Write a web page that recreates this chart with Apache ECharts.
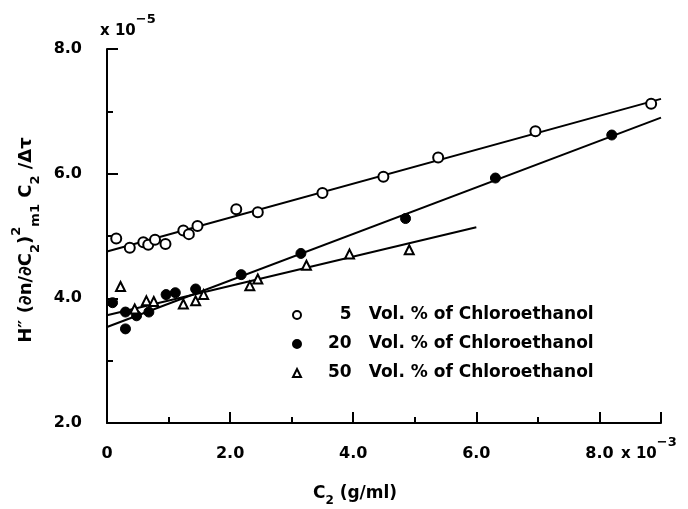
<!DOCTYPE html>
<html>
<head>
<meta charset="utf-8">
<script src="https://cdn.jsdelivr.net/npm/echarts@6/dist/echarts.min.js"></script>
<style>
  html, body { margin: 0; padding: 0; background: #fff; }
  #chart { width: 688px; height: 509px; }
</style>
</head>
<body>
<div id="chart"></div>
<script>
// Concentration C2 (x 10^-3 g/ml) and H'' (dn/dC2)^2 C2 / dtau (x 10^-5)
const vol5X = [0.15, 0.37, 0.59, 0.67, 0.78, 0.95, 1.24, 1.33, 1.47, 2.10, 2.45, 3.50, 4.49, 5.38, 6.96, 8.84];
const vol5Y = [4.96, 4.81, 4.90, 4.86, 4.94, 4.87, 5.09, 5.03, 5.16, 5.43, 5.38, 5.69, 5.95, 6.26, 6.68, 7.12];

const vol20X = [0.09, 0.30, 0.30, 0.48, 0.68, 0.96, 1.11, 1.44, 2.18, 3.15, 4.85, 6.31, 8.20];
const vol20Y = [3.93, 3.78, 3.51, 3.72, 3.78, 4.06, 4.09, 4.15, 4.38, 4.72, 5.28, 5.93, 6.62];

const vol50X = [0.22, 0.45, 0.64, 0.76, 1.24, 1.44, 1.57, 2.32, 2.45, 3.24, 3.94, 4.91];
const vol50Y = [4.19, 3.83, 3.96, 3.95, 3.91, 3.96, 4.06, 4.20, 4.31, 4.53, 4.71, 4.78];

// End points of the straight lines drawn through each set
const fit5X = [0, 9.0];
const fit5Y = [4.75, 7.20];
const fit20X = [0, 9.0];
const fit20Y = [3.54, 6.90];
const fit50X = [0, 6.0];
const fit50Y = [3.73, 5.14];

const seriesNames = ['5 Vol. % of Chloroethanol', '20 Vol. % of Chloroethanol', '50 Vol. % of Chloroethanol'];
const xTicks = [0, 2, 4, 6, 8];
const yTicks = [2, 4, 6, 8];

const FONT = 'DejaVu Sans';
const zip = (xs, ys) => xs.map((x, i) => [x, ys[i]]);

const chart = echarts.init(document.getElementById('chart'), null, { renderer: 'canvas' });

const axisCommon = {
  type: 'value',
  axisLine: { show: true, lineStyle: { color: '#000', width: 2 } },
  axisTick: { show: true, inside: true, length: 11, lineStyle: { color: '#000', width: 2 } },
  minorTick: { show: true, splitNumber: 2, length: 6, lineStyle: { color: '#000', width: 2 } },
  splitLine: { show: false },
  minorSplitLine: { show: false }
};

const labelStyle = { color: '#000', fontFamily: FONT, fontWeight: 'bold', fontSize: 16 };

function fitLine(xs, ys) {
  return {
    type: 'line',
    data: zip(xs, ys),
    symbol: 'none',
    silent: true,
    z: 2,
    lineStyle: { color: '#000', width: 2 }
  };
}

// Legend rows: percentage right-aligned (figure space pads one-digit values)
function legendLabel(name) {
  const k = name.indexOf(' ');
  let num = name.slice(0, k);
  if (num.length < 2) num = '\u2007' + num;
  return '{p| }{t|' + num + '\u2002\u2002' + name.slice(k + 1) + '}';
}

const option = {
  backgroundColor: '#fff',
  animation: false,
  grid: { left: 107, right: 27, top: 49, bottom: 86, containLabel: false, outerBoundsMode: 'none' },
  xAxis: Object.assign({}, axisCommon, {
    min: 0, max: 9, interval: 2,
    axisLabel: Object.assign({}, labelStyle, {
      margin: 23,
      formatter: v => (xTicks.indexOf(v) < 0 ? '' : (v === 0 ? '0' : v.toFixed(1)))
    })
  }),
  yAxis: Object.assign({}, axisCommon, {
    min: 2, max: 8, interval: 2,
    axisLabel: Object.assign({}, labelStyle, {
      margin: 25,
      formatter: v => (yTicks.indexOf(v) < 0 ? '' : v.toFixed(1))
    })
  }),
  legend: {
    data: seriesNames,
    orient: 'vertical',
    left: 292,
    top: 305,
    padding: 0,
    itemGap: 9,
    itemWidth: 8,
    itemHeight: 8,
    selectedMode: false,
    formatter: legendLabel,
    textStyle: {
      color: '#000', fontFamily: FONT, fontWeight: 'bold', fontSize: 17, lineHeight: 20,
      rich: {
        p: { width: 22, fontFamily: FONT, fontSize: 17 },
        t: { fontFamily: FONT, fontWeight: 'bold', fontSize: 17, color: '#000' }
      }
    }
  },
  series: [
    fitLine(fit5X, fit5Y),
    fitLine(fit20X, fit20Y),
    fitLine(fit50X, fit50Y),
    {
      name: seriesNames[0], type: 'scatter', data: zip(vol5X, vol5Y), z: 5,
      symbol: 'circle', symbolSize: 10,
      itemStyle: { color: '#fff', borderColor: '#000', borderWidth: 2, opacity: 1 }
    },
    {
      name: seriesNames[1], type: 'scatter', data: zip(vol20X, vol20Y), z: 5,
      symbol: 'circle', symbolSize: 10,
      itemStyle: { color: '#000', borderColor: '#000', borderWidth: 1, opacity: 1 }
    },
    {
      name: seriesNames[2], type: 'scatter', data: zip(vol50X, vol50Y), z: 5,
      symbol: 'triangle', symbolSize: 9,
      itemStyle: { color: '#fff', borderColor: '#000', borderWidth: 2, opacity: 1 }
    }
  ],
  graphic: [
    // vertical axis title
    {
      type: 'text', x: 26, y: 240, rotation: Math.PI / 2,
      style: {
        text: '{m|H\u2033 (\u2202n/\u2202C}{sb|2}{m|)}{sp|2}{sb|m1}{m| C}{sb|2}{m| /\u0394\u03c4}',
        align: 'center', verticalAlign: 'middle', fill: '#000',
        rich: {
          m: { fontFamily: FONT, fontWeight: 'bold', fontSize: 18, lineHeight: 32, verticalAlign: 'middle', fill: '#000' },
          sp: { fontFamily: FONT, fontWeight: 'bold', fontSize: 13, lineHeight: 14, verticalAlign: 'top', fill: '#000' },
          sb: { fontFamily: FONT, fontWeight: 'bold', fontSize: 13, lineHeight: 14, verticalAlign: 'bottom', fill: '#000' }
        }
      }
    },
    // horizontal axis title
    {
      type: 'text', x: 355, y: 494,
      style: {
        text: '{m|C}{sb|2}{m| (g/ml)}',
        align: 'center', verticalAlign: 'middle', fill: '#000',
        rich: {
          m: { fontFamily: FONT, fontWeight: 'bold', fontSize: 17, lineHeight: 26, verticalAlign: 'middle', fill: '#000' },
          sb: { fontFamily: FONT, fontWeight: 'bold', fontSize: 12, lineHeight: 12, verticalAlign: 'bottom', fill: '#000' }
        }
      }
    },
    // y scale factor
    {
      type: 'text', x: 100, y: 26,
      style: {
        text: '{m|x 10}{sp|\u22125}',
        align: 'left', verticalAlign: 'middle', fill: '#000',
        rich: {
          m: { fontFamily: FONT, fontWeight: 'bold', fontSize: 15, lineHeight: 26, verticalAlign: 'bottom', fill: '#000' },
          sp: { fontFamily: FONT, fontWeight: 'bold', fontSize: 13, lineHeight: 14, verticalAlign: 'top', fill: '#000' }
        }
      }
    },
    // x scale factor
    {
      type: 'text', x: 621, y: 449,
      style: {
        text: '{m|x 10}{sp|\u22123}',
        align: 'left', verticalAlign: 'middle', fill: '#000',
        rich: {
          m: { fontFamily: FONT, fontWeight: 'bold', fontSize: 15, lineHeight: 26, verticalAlign: 'bottom', fill: '#000' },
          sp: { fontFamily: FONT, fontWeight: 'bold', fontSize: 13, lineHeight: 14, verticalAlign: 'top', fill: '#000' }
        }
      }
    }
  ]
};

chart.setOption(option);
</script>
</body>
</html>
